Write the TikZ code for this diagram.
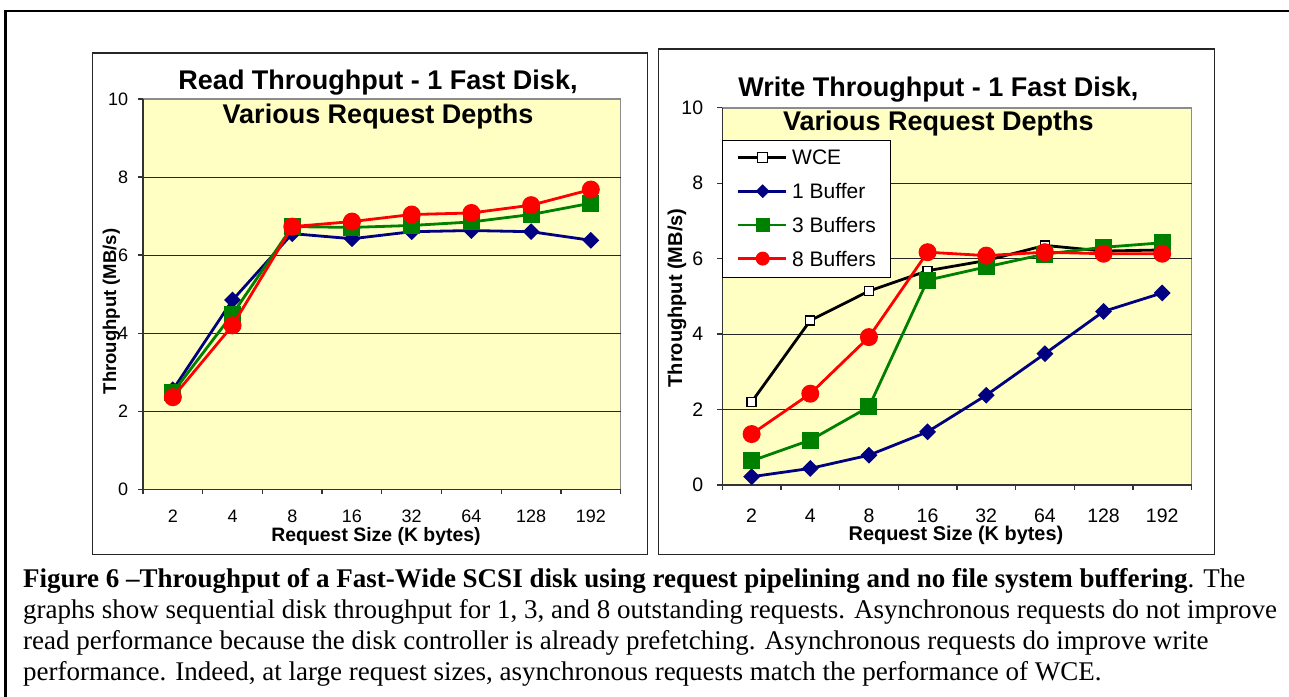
\documentclass[tikz,border=0pt]{standalone}
\usepackage{fontspec}
\setmainfont{Liberation Serif}
\newfontfamily\arialf{Liberation Sans}
\usetikzlibrary{shapes.geometric}
\definecolor{plotbg}{HTML}{FFFFC4}
\definecolor{sblue}{HTML}{000080}
\definecolor{sgreen}{HTML}{008000}
\definecolor{sred}{HTML}{FF0000}
\newcommand{\setfs}[1]{\fontsize{#1}{#1}\selectfont}
\newcommand{\chartseries}[4]{%
  \foreach \v [count=\i from 0] in {#2} \coordinate (#1\i) at (\i+0.5,\v);
  \draw[serline,#3] (#10) -- (#11) -- (#12) -- (#13) -- (#14) -- (#15) -- (#16) -- (#17);
  \foreach \i in {0,...,7} \node[#4] (#1m\i) at (#1\i) {};
}
\begin{document}
\begin{tikzpicture}[x=1pt,y=-1pt,
  chartbox/.style={draw=black!85, line width=1.4pt},
  plotbox/.style={fill=plotbg, draw=black!45, line width=1.6pt},
  gridln/.style={draw=black!85, line width=0.9pt},
  axisln/.style={draw=black!80, line width=1.3pt},
  serline/.style={line width=2.8pt, line join=round},
  mdia/.style={diamond, fill=sblue, inner sep=0pt, minimum width=17pt, minimum height=17pt},
  msqr/.style={rectangle, fill=sgreen, inner sep=0pt, minimum size=17pt},
  mcir/.style={circle, fill=sred, inner sep=0pt, minimum size=18pt},
  mwce/.style={rectangle, draw=black, fill=white, line width=1.3pt, inner sep=0pt, minimum size=9pt},
  ltick/.style={inner sep=0pt, font=\arialf\setfs{18}},
  rtick/.style={inner sep=0pt, font=\arialf\setfs{19.5}},
  titlelbl/.style={inner sep=0pt, anchor=base, font=\arialf\bfseries\setfs{27}},
  caplbl/.style={inner sep=0pt, anchor=base west, font=\setfs{27}},
  legtxt/.style={inner sep=0pt, anchor=west, font=\arialf\setfs{21}},
]
\useasboundingbox (0,0) rectangle (1289,696);
% outer frame
\draw[line width=2.2pt] (5.5,698) -- (5.5,11) -- (1292,11);
% chart boxes
\draw[chartbox] (92.7,53) rectangle (647.7,554.7);
\draw[chartbox] (658.7,49) rectangle (1214.7,554.7);

% ---------- left chart ----------
\begin{scope}[shift={(143pt,-489.3pt)}, x=59.71pt, y=39.03pt]
  \draw[plotbox] (0,0) rectangle (8,10);
  \foreach \v in {2,4,6,8} \draw[gridln] (0,\v) -- (8,\v);
  \draw[axisln] (0,10) -- (0,0) -- (8,0);
  \foreach \v in {0,2,...,10} {
    \draw[axisln] (0,\v) -- ++(-5pt,0);
    \node[ltick, anchor=east, xshift=-14.7pt] (ly\v) at (0,\v) {\v};
  }
  \foreach \i in {0,...,8} \draw[axisln] (\i,0) -- ++(0,-5pt);
  \foreach \t [count=\i from 0] in {2,4,8,16,32,64,128,192}
    \node[ltick, yshift=-27.4pt] (lx\i) at (\i+0.5,0) {\t};
  \chartseries{la}{2.55,4.85,6.55,6.42,6.6,6.63,6.6,6.38}{sblue}{mdia}
  \chartseries{lb}{2.48,4.49,6.73,6.71,6.76,6.85,7.04,7.33}{sgreen}{msqr}
  \chartseries{lc}{2.36,4.2,6.73,6.86,7.04,7.08,7.28,7.68}{sred}{mcir}
\end{scope}
\node[titlelbl] (lt1) at (378,89) {Read Throughput - 1 Fast Disk,};
\node[titlelbl] (lt2) at (378,123) {Various Request Depths};
\node[inner sep=0pt, rotate=90, font=\arialf\bfseries\setfs{18.5}] (lyl) at (111.3,311.5) {Throughput (MB/s)};
\node[inner sep=0pt, font=\arialf\bfseries\setfs{19.4}] (lxl) at (376,536) {Request Size (K bytes)};

% ---------- right chart ----------
\begin{scope}[shift={(722.3pt,-485pt)}, x=58.65pt, y=37.73pt]
  \draw[plotbox] (0,0) rectangle (8,10);
  \foreach \v in {2,4,6,8} \draw[gridln] (0,\v) -- (8,\v);
  \draw[axisln] (0,10) -- (0,0) -- (8,0);
  \foreach \v in {0,2,...,10} {
    \draw[axisln] (0,\v) -- ++(-5pt,0);
    \node[rtick, anchor=east, xshift=-19pt] (ry\v) at (0,\v) {\v};
  }
  \foreach \i in {0,...,8} \draw[axisln] (\i,0) -- ++(0,-5pt);
  \foreach \t [count=\i from 0] in {2,4,8,16,32,64,128,192}
    \node[rtick, yshift=-31pt] (rx\i) at (\i+0.5,0) {\t};
  \chartseries{rw}{2.2,4.36,5.14,5.68,5.95,6.35,6.2,6.23}{black}{mwce}
  \chartseries{ra}{0.22,0.44,0.79,1.41,2.38,3.48,4.6,5.09}{sblue}{mdia}
  \chartseries{rb}{0.64,1.19,2.07,5.43,5.78,6.12,6.3,6.42}{sgreen}{msqr}
  \chartseries{rc}{1.35,2.42,3.92,6.17,6.08,6.17,6.13,6.13}{sred}{mcir}
\end{scope}
\node[titlelbl] (rt1) at (938.4,96.4) {Write Throughput - 1 Fast Disk,};
\node[titlelbl] (rt2) at (938.4,130.4) {Various Request Depths};
\node[inner sep=0pt, rotate=90, font=\arialf\bfseries\setfs{20}] (ryl) at (677,298) {Throughput (MB/s)};
\node[inner sep=0pt, font=\arialf\bfseries\setfs{19.9}] (rxl) at (956,535) {Request Size (K bytes)};

% legend
\node[draw=black, line width=1pt, fill=white, minimum width=168pt, minimum height=137pt, anchor=north west, inner sep=0pt] (leg) at (722.3,140) {};
\coordinate (lgA0) at (738,157.5); \coordinate (lgB0) at (786,157.5);
\coordinate (lgA1) at (738,191.2); \coordinate (lgB1) at (786,191.2);
\coordinate (lgA2) at (738,224.9); \coordinate (lgB2) at (786,224.9);
\coordinate (lgA3) at (738,258.6); \coordinate (lgB3) at (786,258.6);
\draw[serline, black] (lgA0) -- (lgB0);
\node[mwce, minimum size=10pt] (lgm0) at (762.7,157.5) {};
\node[legtxt] (lgt0) at (792,157.5) {WCE};
\draw[serline, sblue] (lgA1) -- (lgB1);
\node[mdia, minimum width=14pt, minimum height=14pt] (lgm1) at (762.7,191.2) {};
\node[legtxt] (lgt1) at (792,191.2) {1 Buffer};
\draw[serline, sgreen] (lgA2) -- (lgB2);
\node[msqr, minimum size=14pt] (lgm2) at (762.7,224.9) {};
\node[legtxt] (lgt2) at (792,224.9) {3 Buffers};
\draw[serline, sred] (lgA3) -- (lgB3);
\node[mcir, minimum size=14pt] (lgm3) at (762.7,258.6) {};
\node[legtxt] (lgt3) at (792,258.6) {8 Buffers};

% caption
\node[caplbl] (cap1) at (23,587) {\textbf{Figure 6 –Throughput of a Fast-Wide SCSI disk using request pipelining and no file system buffering}. The};
\node[caplbl] (cap2) at (23,618) {graphs show sequential disk throughput for 1, 3, and 8 outstanding requests. Asynchronous requests do not improve};
\node[caplbl] (cap3) at (23,649) {read performance because the disk controller is already prefetching. Asynchronous requests do improve write};
\node[caplbl] (cap4) at (23,680.5) {performance. Indeed, at large request sizes, asynchronous requests match the performance of WCE.};
\end{tikzpicture}
\end{document}
